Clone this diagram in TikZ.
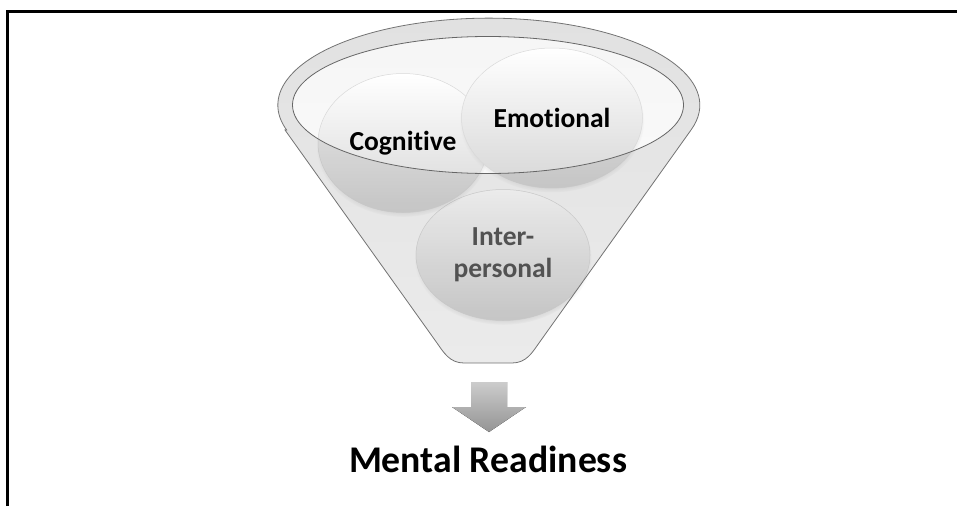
\documentclass[tikz,border=0pt]{standalone}
\usepackage{fontspec}
\setmainfont{Carlito}[Ligatures={NoCommon}]
\usetikzlibrary{shapes.geometric,shadows}

\newcommand{\funnelpath}{(285,130) -- (437,343) .. controls (444,353) and (450,363) .. (464,363)
  -- (512,363) .. controls (526,363) and (532,353) .. (539,343) -- (691,130)
  arc[start angle=16.6, end angle=-196.6, x radius=211, y radius=87] -- cycle}

\tikzset{
  ball/.style={ellipse, draw=black!15, line width=0.5pt, inner sep=0pt,
    top color=white, bottom color=black!16,
    font=\bfseries\fontsize{27.5}{32}\selectfont,
    circular drop shadow={shadow xshift=0pt, shadow yshift=-3pt, shadow scale=1.02, opacity=0.3}},
}

\begin{document}
\begin{tikzpicture}[x=1pt, y=-1pt]
  \useasboundingbox (0,0) rectangle (957,506);

  % Frame
  \coordinate (fbl) at (7,506);
  \coordinate (ftl) at (7,11);
  \coordinate (ftr) at (957,11);
  \draw[line width=3pt] (fbl) -- (ftl) -- (ftr);

  % Funnel (back)
  \path[top color=black!4, bottom color=white] \funnelpath;

  % Balls
  \node[ball, minimum width=174pt, minimum height=131pt, text=black!65, align=center] (inter) at (503,255) {Inter-\\personal};
  \node[ball, minimum width=170pt, minimum height=139pt] (cog) at (403,143) {Cognitive};
  \node[ball, minimum width=181pt, minimum height=140pt] (emo) at (552,118) {Emotional};

  % Funnel (front)
  \fill[black, opacity=0.08, even odd rule] \funnelpath (488,105) ellipse[x radius=195.5, y radius=68.5];
  \draw[black!60, line width=0.8pt] (488,105) ellipse[x radius=195.5, y radius=68.5];
  \draw[black!55, line width=0.8pt] \funnelpath;

  % Arrow
  \fill[top color=black!20, bottom color=black!42]
    (471,382) -- (507,382) -- (507,407) -- (526,407) -- (489,432) -- (452,407) -- (471,407) -- cycle;

  % Result
  \node[font=\bfseries\fontsize{37.7}{40}\selectfont, anchor=base] (ready) at (488,472) {Mental Readiness};

\end{tikzpicture}
\end{document}
